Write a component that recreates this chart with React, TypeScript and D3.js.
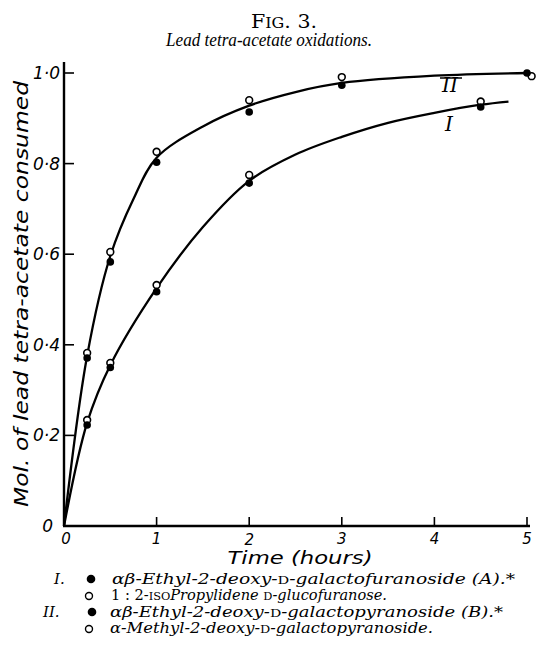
import React from "react";
import * as d3 from "d3";

// Smooth curves
const curveITime = [0, 0.25, 0.5, 1, 1.5, 2, 2.5, 3, 3.5, 4, 4.5, 4.8];
const curveIValue = [0, 0.228, 0.355, 0.525, 0.66, 0.762, 0.82, 0.859, 0.89, 0.912, 0.93, 0.937];
const curveIITime = [0, 0.25, 0.5, 0.75, 1, 1.5, 2, 2.5, 3, 4, 5];
const curveIIValue = [0, 0.376, 0.596, 0.722, 0.813, 0.882, 0.928, 0.958, 0.978, 0.994, 1.0];

// Experimental points
const seriesIFilledTime = [0.25, 0.5, 1, 2, 4.5];
const seriesIFilledValue = [0.223, 0.35, 0.517, 0.757, 0.925];
const seriesIOpenTime = [0.25, 0.5, 1, 2, 4.5];
const seriesIOpenValue = [0.234, 0.36, 0.532, 0.775, 0.937];
const seriesIIFilledTime = [0.25, 0.5, 1, 2, 3, 5];
const seriesIIFilledValue = [0.371, 0.583, 0.803, 0.914, 0.973, 1.0];
const seriesIIOpenTime = [0.25, 0.5, 1, 2, 3, 5.05];
const seriesIIOpenValue = [0.382, 0.605, 0.826, 0.94, 0.991, 0.993];

const xTicks = [0, 1, 2, 3, 4, 5];
const xTickLabels = ["0", "1", "2", "3", "4", "5"];
const yTicks = [0, 0.2, 0.4, 0.6, 0.8, 1.0];
const yTickLabels = ["0", "0·2", "0·4", "0·6", "0·8", "1·0"];

const W = 539;
const H = 653;

const serif = "'DejaVu Serif', 'Liberation Serif', serif";
const times = "'Liberation Serif', 'DejaVu Serif', serif";
const sans = "'DejaVu Sans', 'Liberation Sans', sans-serif";

export default function App() {
  const x = d3.scaleLinear().domain([0, 5]).range([64, 527]);
  const y = d3.scaleLinear().domain([0, 1]).range([526, 73]);

  const line = d3
    .line<[number, number]>()
    .x((d) => x(d[0]))
    .y((d) => y(d[1]))
    .curve(d3.curveCatmullRom.alpha(0.5));

  const cI = line(curveITime.map((t, i) => [t, curveIValue[i]] as [number, number])) || "";
  const cII = line(curveIITime.map((t, i) => [t, curveIIValue[i]] as [number, number])) || "";

  const filled = (ts: number[], vs: number[], key: string) =>
    ts.map((t, i) => (
      <circle key={key + i} cx={x(t)} cy={y(vs[i])} r={3.8} fill="#000" />
    ));
  const open = (ts: number[], vs: number[], key: string) =>
    ts.map((t, i) => (
      <circle
        key={key + i}
        cx={x(t)}
        cy={y(vs[i])}
        r={3.4}
        fill="#fff"
        stroke="#000"
        strokeWidth={1.6}
      />
    ));

  const sc = { fontSize: "0.78em" } as React.CSSProperties;

  return (
    <svg
      width={W}
      height={H}
      style={{ position: "absolute", left: 0, top: 0, background: "#fff" }}
    >
      {/* Title */}
      <text x={284} y={28} textAnchor="middle" fontFamily={serif} fontSize={18} fill="#000"
        textLength={66} lengthAdjust="spacingAndGlyphs">
        F<tspan fontSize={14}>IG</tspan>. 3.
      </text>
      <text
        x={269}
        y={46}
        textAnchor="middle"
        fontFamily={times}
        fontStyle="italic"
        fontSize={18}
        fill="#000"
        textLength={206}
        lengthAdjust="spacingAndGlyphs"
      >
        Lead tetra-acetate oxidations.
      </text>

      {/* Axes */}
      <line x1={x(0)} y1={62} x2={x(0)} y2={y(0)} stroke="#000" strokeWidth={2.4} />
      <line x1={x(0) - 1} y1={y(0)} x2={530} y2={y(0)} stroke="#000" strokeWidth={2.4} />
      {yTicks.slice(1).map((v) => (
        <line key={"yt" + v} x1={x(0)} x2={x(0) + 10} y1={y(v)} y2={y(v)} stroke="#000" strokeWidth={1.6} />
      ))}
      {xTicks.slice(1).map((t) => (
        <line key={"xt" + t} x1={x(t)} x2={x(t)} y1={y(0)} y2={y(0) - 9} stroke="#000" strokeWidth={1.6} />
      ))}
      {yTicks.map((v, i) => (
        <text
          key={"yl" + v}
          x={i === 0 ? 53 : 60}
          y={y(v) + 6}
          textAnchor="end"
          fontFamily={sans}
          fontStyle="italic"
          fontSize={17}
          fill="#000"
        >
          {yTickLabels[i]}
        </text>
      ))}
      {xTicks.map((t, i) => (
        <text
          key={"xl" + t}
          x={x(t) + (i === 0 ? 2 : 0)}
          y={544 + (i === 2 ? 1 : 0)}
          textAnchor="middle"
          fontFamily={sans}
          fontStyle="italic"
          fontSize={15}
          fill="#000"
        >
          {xTickLabels[i]}
        </text>
      ))}

      {/* Axis titles */}
      <text
        transform="translate(28,294) rotate(-90)"
        textAnchor="middle"
        fontFamily={sans}
        fontStyle="italic"
        fontSize={19}
        fill="#000"
        textLength={426}
        lengthAdjust="spacingAndGlyphs"
      >
        Mol. of lead tetra-acetate consumed
      </text>
      <text
        x={300}
        y={564}
        textAnchor="middle"
        fontFamily={sans}
        fontStyle="italic"
        fontSize={18}
        fill="#000"
        textLength={145}
        lengthAdjust="spacingAndGlyphs"
      >
        Time (hours)
      </text>

      {/* Curves */}
      <path d={cI} fill="none" stroke="#000" strokeWidth={2.3} />
      <path d={cII} fill="none" stroke="#000" strokeWidth={2.3} />

      {/* Points */}
      {open(seriesIOpenTime, seriesIOpenValue, "io")}
      {filled(seriesIFilledTime, seriesIFilledValue, "if")}
      {open(seriesIIOpenTime, seriesIIOpenValue, "iio")}
      {filled(seriesIIFilledTime, seriesIIFilledValue, "iif")}

      {/* Curve labels */}
      <text x={450} y={92} textAnchor="middle" fontFamily={serif} fontStyle="italic" fontSize={20} fill="#000">
        II
      </text>
      <line x1={440} x2={462} y1={78} y2={78} stroke="#000" strokeWidth={1.5} />
      <text x={449} y={131} textAnchor="middle" fontFamily={serif} fontStyle="italic" fontSize={20} fill="#000">
        I
      </text>

      {/* Legend */}
      <g fontFamily={serif} fontSize={15} fill="#000">
        <text x={54} y={584} fontStyle="italic">I.</text>
        <circle cx={91} cy={579} r={4.3} fill="#000" />
        <text x={112} y={584} fontStyle="italic" textLength={403} lengthAdjust="spacingAndGlyphs">
          αβ-Ethyl-2-deoxy-<tspan fontStyle="normal" style={sc}>D</tspan>-galactofuranoside (<tspan>A</tspan>).*
        </text>

        <circle cx={89} cy={596} r={3.5} fill="#fff" stroke="#000" strokeWidth={1.4} />
        <text x={111} y={600} textLength={276} lengthAdjust="spacingAndGlyphs">
          1 : 2-<tspan style={sc}>ISO</tspan>
          <tspan fontStyle="italic">Propylidene </tspan>
          <tspan style={sc}>D</tspan>
          <tspan fontStyle="italic">-glucofuranose.</tspan>
        </text>

        <text x={43} y={617} fontStyle="italic">II.</text>
        <circle cx={92} cy={612} r={4.3} fill="#000" />
        <text x={110} y={617} fontStyle="italic" textLength={393} lengthAdjust="spacingAndGlyphs">
          αβ-Ethyl-2-deoxy-<tspan fontStyle="normal" style={sc}>D</tspan>-galactopyranoside (<tspan>B</tspan>).*
        </text>

        <circle cx={89} cy={629} r={3.5} fill="#fff" stroke="#000" strokeWidth={1.4} />
        <text x={110} y={633} fontStyle="italic" textLength={323} lengthAdjust="spacingAndGlyphs">
          α-Methyl-2-deoxy-<tspan fontStyle="normal" style={sc}>D</tspan>-galactopyranoside.
        </text>
      </g>
    </svg>
  );
}
